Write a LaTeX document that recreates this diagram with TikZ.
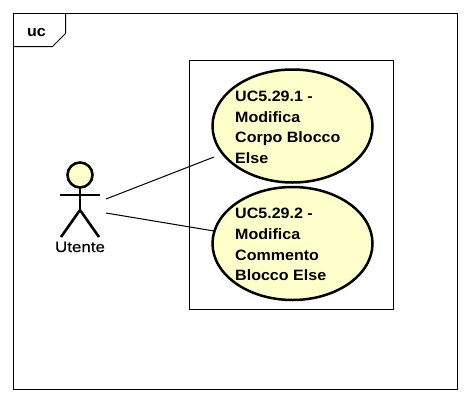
\documentclass[tikz,border=0pt]{standalone}
\usepackage{fontspec}
\setmainfont{Liberation Sans}
\newfontfamily\ucbold[FakeStretch=1.07]{Liberation Sans Bold}
\newfontfamily\actorfont[FakeStretch=1.13,FakeBold=0.6]{Liberation Sans}
\definecolor{ucfill}{HTML}{FFFFCC}
\tikzset{
  thinline/.style={draw=black,line width=1pt},
  stick/.style={draw=black,line width=2.6pt},
  usecase/.style={ellipse,draw=black,line width=2.5pt,fill=ucfill,minimum width=160pt,minimum height=113pt,inner sep=0pt},
  uctext/.style={anchor=base west,inner sep=0pt,font=\ucbold\fontsize{15}{15}\selectfont},
  lbl/.style={anchor=base,inner sep=0pt,font=\actorfont\fontsize{15}{15}\selectfont}
}
\usetikzlibrary{shapes.geometric}
\begin{document}
\begin{tikzpicture}[x=1pt,y=-1pt]
\useasboundingbox (0,0) rectangle (468,402);
\fill[white] (0,0) rectangle (468,402);
% frame
\draw[thinline] (13.5,13.5) rectangle (457.5,389.5);
\draw[thinline] (13.5,46.5) -- (52.5,46.5) -- (65.5,33.5) -- (65.5,13.5);
\node[anchor=base,inner sep=0pt,font=\ucbold\fontsize{15}{15}\selectfont] (uc) at (36.5,36.5) {uc};
% boundary
\draw[thinline] (189.5,60.5) rectangle (393.5,309.5);
% use cases
\node[usecase] (e1) at (292.5,126) {};
\node[usecase] (e2) at (292.5,243.5) {};
\foreach \n/\y/\t in {a/101.5/UC5.29.1 -,b/122/Modifica,c/142.5/Corpo Blocco,d/163/Else,
                      e/218.5/UC5.29.2 -,f/239.5/Modifica,g/260/Commento,h/280.5/Blocco Else}
  \node[uctext] (t\n) at (235,\y) {\t};
% actor
\draw[stick,fill=ucfill] (80,175) circle (12.5pt);
\draw[stick] (80,187.5) -- (80,210);
\draw[stick] (60,195) -- (100,195);
\draw[stick] (80,210) -- (61,237);
\draw[stick] (80,210) -- (99,237);
\node[lbl] (actor) at (80,252) {Utente};
% connectors
\coordinate (s1) at (106,199);
\coordinate (s2) at (106,213);
\coordinate (d1) at (214,157);
\coordinate (d2) at (214,231);
\draw[thinline] (s1) -- (d1);
\draw[thinline] (s2) -- (d2);
\end{tikzpicture}
\end{document}
